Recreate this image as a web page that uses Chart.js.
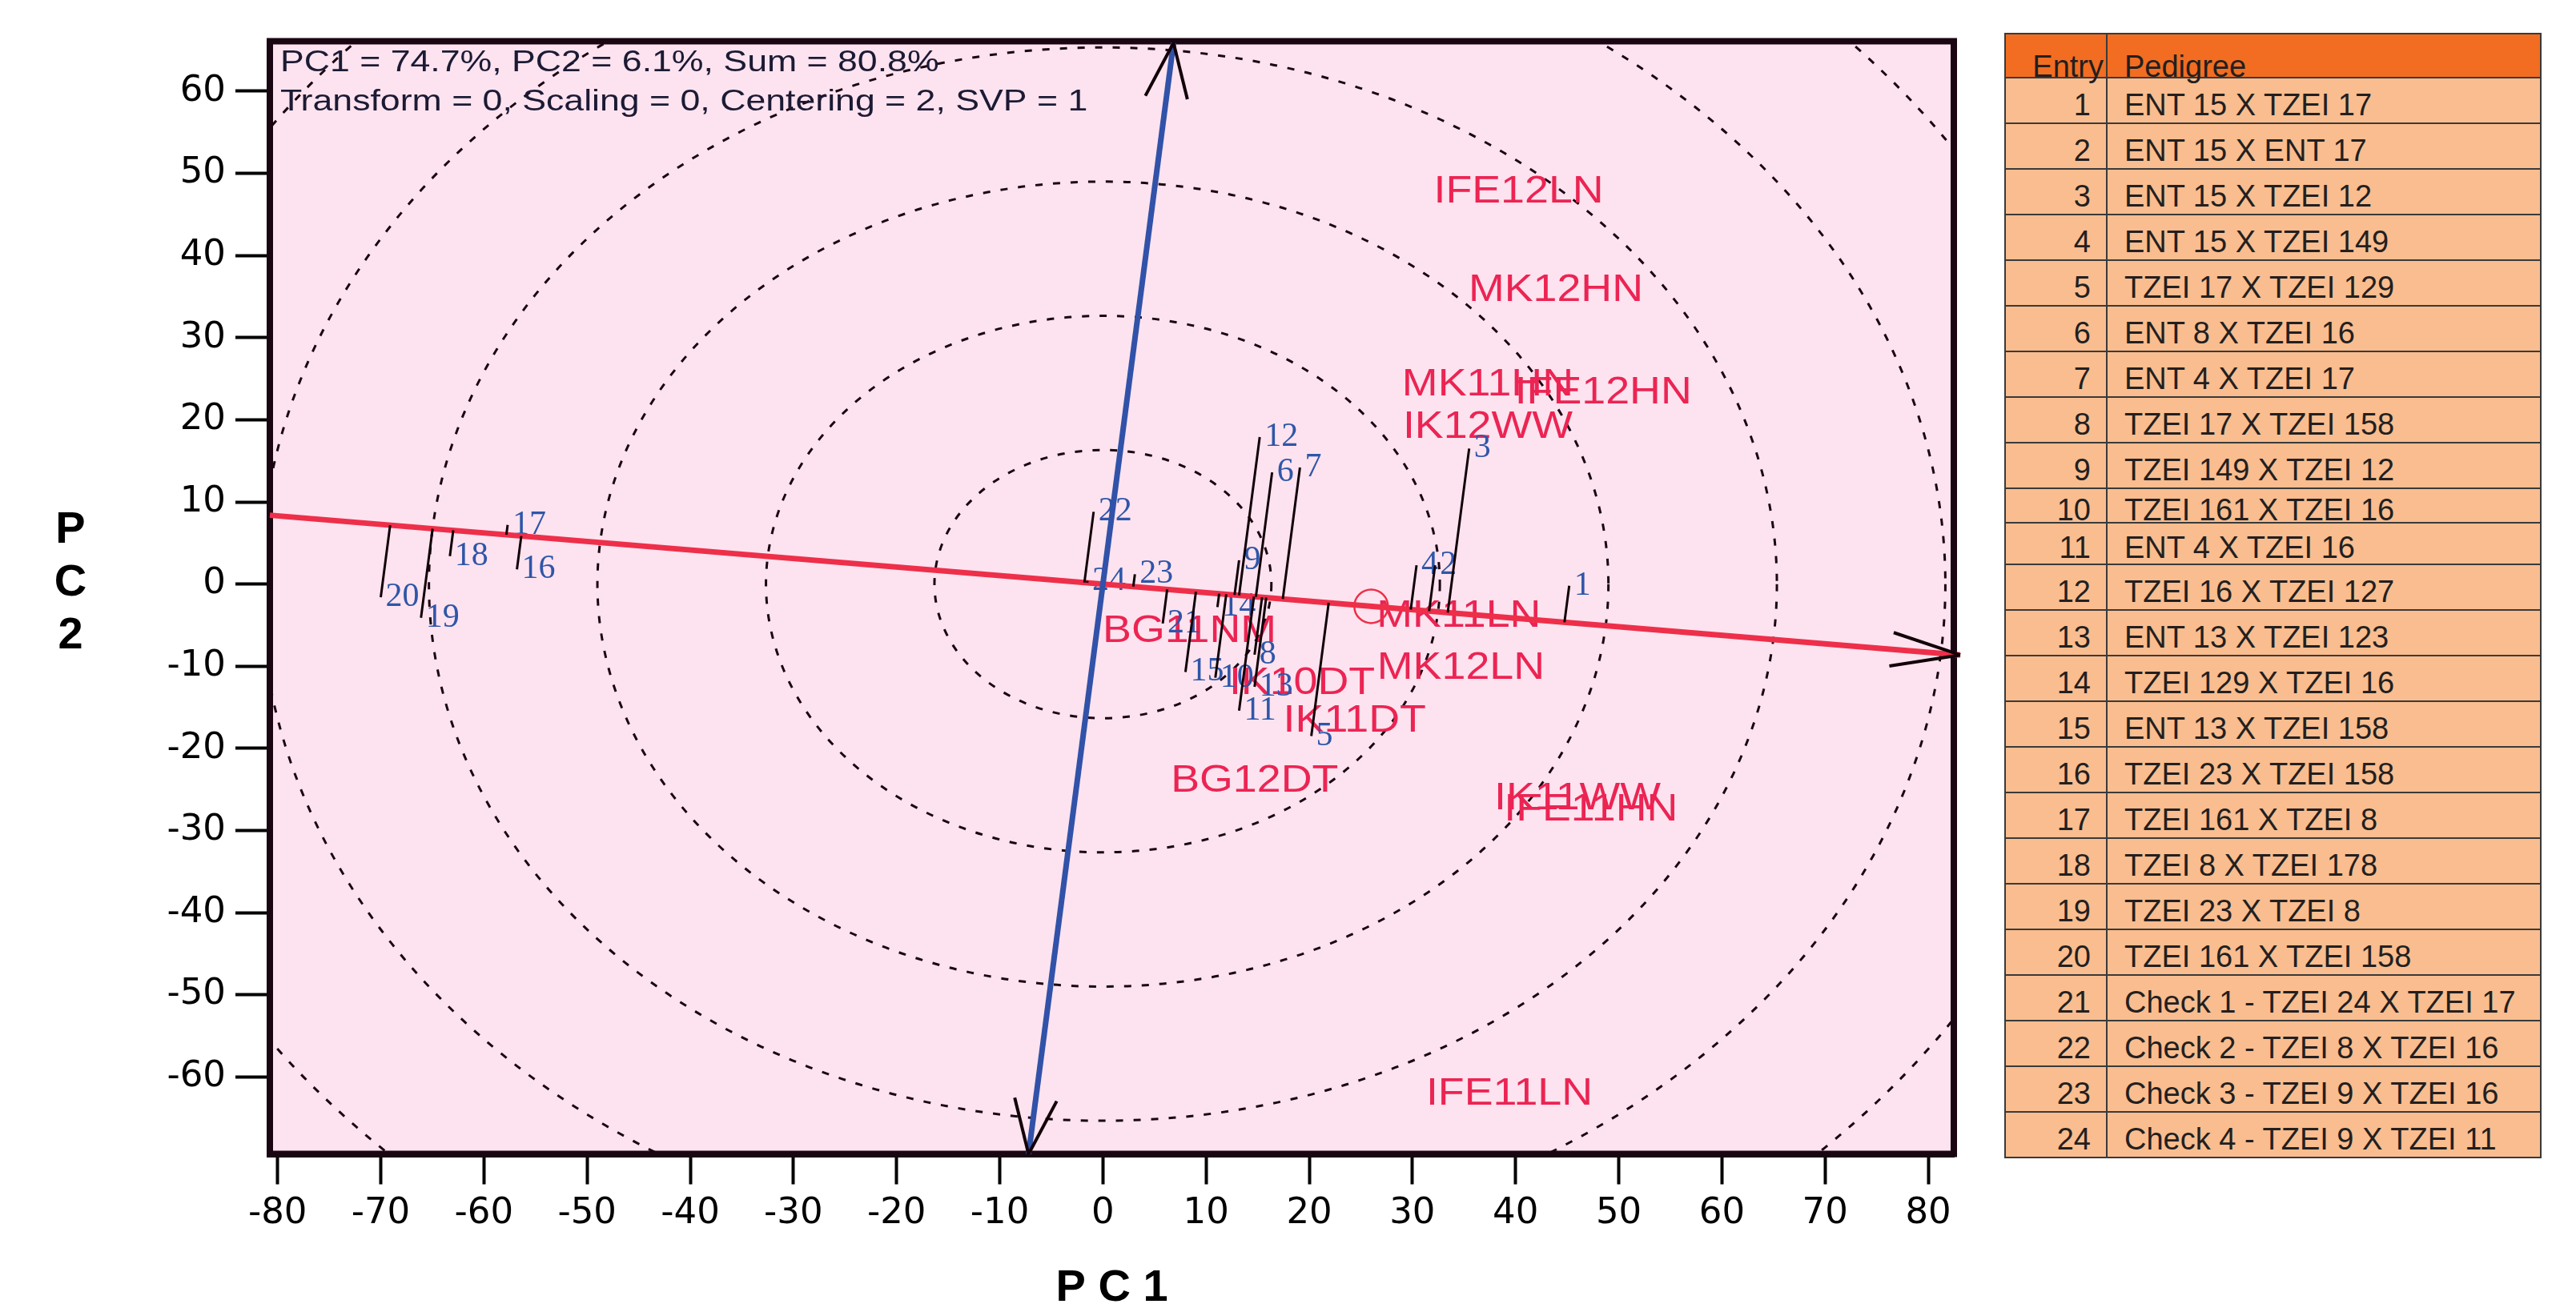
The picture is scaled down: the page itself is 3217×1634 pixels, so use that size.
<!DOCTYPE html>
<html>
<head>
<meta charset="utf-8">
<title>GGE biplot – PC1 vs PC2</title>
<script src="https://cdn.jsdelivr.net/npm/chart.js"></script>
<style>
  html, body { margin: 0; padding: 0; background: #ffffff; }
  #wrap { position: relative; width: 3217px; height: 1634px; overflow: hidden; }
  #chart { position: absolute; left: 0; top: 0; }
  #entryTable { position: absolute; left: 2503px; top: 41px; width: 671px; box-sizing: border-box;
    border: 2px solid #3a3a3a; font-family: 'Liberation Sans', Arial, sans-serif; font-size: 38px; color: #231f20; }
  .tr { display: flex; box-sizing: border-box; border-bottom: 2px solid #3a3a3a; background: #f9bd8f; }
  .tr:last-child { border-bottom: none; }
  .tr.head { background: #f26d21; }
  .c1, .c2 { display: flex; align-items: center; line-height: 1; white-space: nowrap; box-sizing: border-box; }
  .c1 { width: 127px; flex: none; justify-content: flex-end; padding-right: 19px; border-right: 2px solid #3a3a3a; }
  .c2 { flex: 1; padding-left: 21px; }
  .c1 span, .c2 span { position: relative; top: 5px; }
  .head .c1, .head .c2 { align-items: flex-end; }
  .head .c1 { padding-right: 3px; }
  .head .c1 span, .head .c2 span { top: 6px; }
</style>
</head>
<body>
<div id="wrap">
  <canvas id="chart" width="3217" height="1634"></canvas>
  <div id="entryTable"></div>
</div>
<script>
// ---------------- data ----------------
const xTickValues = [-80, -70, -60, -50, -40, -30, -20, -10, 0, 10, 20, 30, 40, 50, 60, 70, 80];
const xTickLabels = ['-80', '-70', '-60', '-50', '-40', '-30', '-20', '-10', '0', '10', '20', '30', '40', '50', '60', '70', '80'];
const yTickValues = [60, 50, 40, 30, 20, 10, 0, -10, -20, -30, -40, -50, -60];
const yTickLabels = ['60', '50', '40', '30', '20', '10', '0', '-10', '-20', '-30', '-40', '-50', '-60'];

const infoLines = ['PC1 = 74.7%, PC2 = 6.1%, Sum = 80.8%', 'Transform = 0, Scaling = 0, Centering = 2, SVP = 1'];

// genotypes (entries)
const entryIds = [1, 2, 3, 4, 5, 6, 7, 8, 9, 10, 11, 12, 13, 14, 15, 16, 17, 18, 19, 20, 21, 22, 23, 24];
const genotypePC1 = [45.2, 32.2, 35.5, 30.4, 20.2, 16.4, 19.1, 14.7, 13.2, 10.9, 13.2, 15.2, 14.7, 11.1, 8.0, -56.8, -57.7, -63.3, -66.1, -70.0, 5.8, -0.9, 3.1, -1.5];
const genotypePC2 = [-0.2, 2.3, 16.5, 2.3, -18.5, 13.6, 14.2, -8.6, 2.9, -11.4, -15.4, 17.9, -12.5, -2.8, -10.7, 1.8, 7.2, 3.4, -4.1, -1.6, -4.8, 8.8, 1.2, 0.4];
const pedigrees = [
  'ENT 15 X TZEI 17', 'ENT 15 X ENT 17', 'ENT 15 X TZEI 12', 'ENT 15 X TZEI 149',
  'TZEI 17 X TZEI 129', 'ENT 8 X TZEI 16', 'ENT 4 X TZEI 17', 'TZEI 17 X TZEI 158',
  'TZEI 149 X TZEI 12', 'TZEI 161 X TZEI 16', 'ENT 4 X TZEI 16', 'TZEI 16 X TZEI 127',
  'ENT 13 X TZEI 123', 'TZEI 129 X TZEI 16', 'ENT 13 X TZEI 158', 'TZEI 23 X TZEI 158',
  'TZEI 161 X TZEI 8', 'TZEI 8 X TZEI 178', 'TZEI 23 X TZEI 8', 'TZEI 161 X TZEI 158',
  'Check 1 - TZEI 24 X TZEI 17', 'Check 2 - TZEI 8 X TZEI 16', 'Check 3 - TZEI 9 X TZEI 16', 'Check 4 - TZEI 9 X TZEI 11'
];

// environments
const envNames = ['IFE12LN', 'MK12HN', 'MK11HN', 'IFE12HN', 'IK12WW', 'MK11LN', 'MK12LN', 'IK10DT', 'BG11NM', 'IK11DT', 'BG12DT', 'IK11WW', 'IFE11HN', 'IFE11LN'];
const envPC1 = [40.3, 43.9, 37.3, 48.5, 37.3, 34.5, 34.7, 19.3, 8.4, 24.4, 14.7, 46.0, 47.3, 39.4];
const envPC2 = [47.7, 35.8, 24.3, 23.3, 19.1, -3.95, -10.2, -12.1, -5.8, -16.7, -24.0, -26.1, -27.5, -62.1];

// average environment (defines the AEC abscissa through the origin)
const avgEnv = [26.0, -2.7];
const abscissaEndsPC1 = [-80.75, 83.1];   // PC1 extent of the AEC abscissa
const ordinateEndsPC2 = [-69.4, 65.9];    // PC2 extent of the AEC ordinate
const circleRadii = [16.33, 32.66, 49.0, 65.33, 81.66, 98.0];

// ---------------- table ----------------
(function buildTable() {
  const host = document.getElementById('entryTable');
  const mk = (cls, a, b, h) => {
    const row = document.createElement('div');
    row.className = 'tr' + (cls ? ' ' + cls : '');
    row.style.height = h + 'px';
    row.innerHTML = '<div class="c1"><span>' + a + '</span></div><div class="c2"><span>' + b + '</span></div>';
    host.appendChild(row);
  };
  mk('head', 'Entry', 'Pedigree', 55);
  entryIds.forEach((id, i) => {
    let h = 57;
    if (i === 9) h = 43;
    if (i === 10) h = 52;
    if (i === entryIds.length - 1) h = 55;
    mk('', id, pedigrees[i], h);
  });
})();

// ---------------- derived geometry (from data) ----------------
const aLen = Math.hypot(avgEnv[0], avgEnv[1]);
const uDir = [avgEnv[0] / aLen, avgEnv[1] / aLen];     // abscissa direction
const vDir = [-uDir[1], uDir[0]];                      // ordinate direction (perpendicular)

const redLine = abscissaEndsPC1.map(x => ({ x: x, y: x * uDir[1] / uDir[0] }));
const blueLine = ordinateEndsPC2.map(y => ({ x: y * vDir[0] / vDir[1], y: y }));

const projData = [];
genotypePC1.forEach((gx, i) => {
  const gy = genotypePC2[i];
  const t = gx * uDir[0] + gy * uDir[1];
  projData.push({ x: gx, y: gy });
  projData.push({ x: t * uDir[0], y: t * uDir[1] });
  projData.push({ x: NaN, y: NaN });
});

const genoPoints = genotypePC1.map((x, i) => ({ x: x, y: genotypePC2[i] }));
const envPoints = envPC1.map((x, i) => ({ x: x, y: envPC2[i] }));

// ---------------- drawing helpers ----------------
function stretchText(ctx, text, x, y, sx, align) {
  ctx.save();
  ctx.translate(x, y);
  ctx.scale(sx, 1);
  ctx.textAlign = align;
  ctx.fillText(text, 0, 0);
  ctx.restore();
}

function arrowHead(ctx, sx, sy, tip, back) {
  const L = 7, ang = 17 * Math.PI / 180;
  [1, -1].forEach(s => {
    const c = Math.cos(s * ang), si = Math.sin(s * ang);
    const dx = (back[0] * c - back[1] * si) * L;
    const dy = (back[0] * si + back[1] * c) * L;
    ctx.beginPath();
    ctx.moveTo(sx.getPixelForValue(tip[0]), sy.getPixelForValue(tip[1]));
    ctx.lineTo(sx.getPixelForValue(tip[0] + dx), sy.getPixelForValue(tip[1] + dy));
    ctx.stroke();
  });
}

const FRAME = '#1a0612';

const biplotDecor = {
  id: 'biplotDecor',
  beforeDraw(chart) {
    const { ctx, chartArea: a } = chart;
    ctx.save();
    ctx.fillStyle = '#fce3ef';
    ctx.fillRect(a.left, a.top, a.right - a.left, a.bottom - a.top);
    ctx.restore();
  },
  beforeDatasetsDraw(chart) {
    const { ctx, chartArea: a, scales } = chart;
    const sx = scales.x, sy = scales.y;
    ctx.save();
    ctx.beginPath();
    ctx.rect(a.left, a.top, a.right - a.left, a.bottom - a.top);
    ctx.clip();
    // concentric circles
    const cx = sx.getPixelForValue(0), cy = sy.getPixelForValue(0);
    ctx.setLineDash([9, 13]);
    ctx.lineWidth = 3;
    ctx.strokeStyle = FRAME;
    circleRadii.forEach(r => {
      const rx = sx.getPixelForValue(r) - cx;
      const ry = cy - sy.getPixelForValue(r);
      ctx.beginPath();
      ctx.ellipse(cx, cy, rx, ry, 0, 0, Math.PI * 2);
      ctx.stroke();
    });
    ctx.setLineDash([]);
    // info text
    ctx.fillStyle = '#1c1a34';
    ctx.font = "36px 'Liberation Sans', Arial, sans-serif";
    ctx.textBaseline = 'alphabetic';
    stretchText(ctx, infoLines[0], a.left + 13, a.top + 37.5, 1.24, 'left');
    stretchText(ctx, infoLines[1], a.left + 13, a.top + 86.5, 1.24, 'left');
    // environment labels
    ctx.textBaseline = 'middle';
    ctx.font = "48px 'Liberation Sans', Arial, sans-serif";
    ctx.fillStyle = '#ec2453';
    chart.getDatasetMeta(5).data.forEach((pt, i) => stretchText(ctx, envNames[i], pt.x, pt.y, 1.12, 'center'));
    // genotype labels
    ctx.font = "42px 'Liberation Serif', 'Times New Roman', serif";
    ctx.fillStyle = '#2f56a8';
    chart.getDatasetMeta(4).data.forEach((pt, i) => stretchText(ctx, String(entryIds[i]), pt.x + 6, pt.y, 1, 'left'));
    ctx.restore();
    // frame
    ctx.save();
    ctx.lineWidth = 8;
    ctx.strokeStyle = FRAME;
    ctx.strokeRect(a.left, a.top, a.right - a.left, a.bottom - a.top);
    ctx.restore();
  },
  afterDatasetsDraw(chart) {
    const { ctx, scales } = chart;
    ctx.save();
    ctx.strokeStyle = '#120008';
    ctx.lineWidth = 4;
    const rEnd = redLine[1];
    arrowHead(ctx, scales.x, scales.y, [rEnd.x, rEnd.y], [-uDir[0], -uDir[1]]);
    const bTop = blueLine[1], bBot = blueLine[0];
    arrowHead(ctx, scales.x, scales.y, [bTop.x, bTop.y], [-vDir[0], -vDir[1]]);
    arrowHead(ctx, scales.x, scales.y, [bBot.x, bBot.y], [vDir[0], vDir[1]]);
    ctx.restore();
  },
  afterDraw(chart) {
    const { ctx, chartArea: a } = chart;
    ctx.save();
    ctx.fillStyle = '#000';
    ctx.font = "bold 56px 'Liberation Sans', Arial, sans-serif";
    ctx.textAlign = 'center';
    ctx.textBaseline = 'middle';
    const x = a.left - 249, yMid = a.top + 677;
    ['P', 'C', '2'].forEach((ch, i) => ctx.fillText(ch, x, yMid + (i - 1) * 65.6));
    ctx.restore();
  }
};

// ---------------- chart ----------------
new Chart(document.getElementById('chart'), {
  type: 'scatter',
  data: {
    datasets: [
      { label: 'AEC abscissa', data: redLine, showLine: true, borderColor: '#ee2f4a', borderWidth: 7,
        pointRadius: 0, clip: false, order: 5 },
      { label: 'AEC ordinate', data: blueLine, showLine: true, borderColor: '#3152a8', borderWidth: 7,
        pointRadius: 0, clip: false, order: 4 },
      { label: 'Projections', data: projData, showLine: true, spanGaps: false, borderColor: '#120008',
        borderWidth: 3, pointRadius: 0, order: 3 },
      { label: 'Average environment', data: [{ x: avgEnv[0], y: avgEnv[1] }], pointRadius: 21, pointStyle: 'circle',
        borderColor: '#ee2f4a', borderWidth: 2.5, backgroundColor: 'rgba(0,0,0,0)', order: 2 },
      { label: 'Genotypes', data: genoPoints, pointRadius: 0, order: 1 },
      { label: 'Environments', data: envPoints, pointRadius: 0, order: 1 }
    ]
  },
  options: {
    responsive: false,
    devicePixelRatio: 1,
    animation: false,
    events: [],
    layout: { padding: { top: 51.5, right: 777, bottom: 0, left: 0 } },
    plugins: { legend: { display: false }, tooltip: { enabled: false } },
    scales: {
      x: {
        type: 'linear', position: 'bottom', min: -80.75, max: 82.48,
        afterBuildTicks: s => { s.ticks = xTickValues.map(v => ({ value: v })); },
        afterFit: s => { s.height = 192.5; },
        ticks: { autoSkip: false, maxRotation: 0, minRotation: 0, padding: 10, color: '#000',
          font: { family: "'DejaVu Sans', sans-serif", size: 45 },
          callback: (v, i) => xTickLabels[i] },
        grid: { drawOnChartArea: false, drawTicks: true, tickLength: 38, tickWidth: 4, tickColor: '#000' },
        border: { display: true, width: 8, color: FRAME },
        title: { display: true, text: 'P C 1', color: '#000', padding: { top: 0, bottom: 0 },
          font: { family: "'Liberation Sans', Arial, sans-serif", size: 56, weight: 'bold', lineHeight: 0.86 } }
      },
      y: {
        type: 'linear', position: 'left', min: -69.37, max: 66.09,
        afterBuildTicks: s => { s.ticks = yTickValues.map(v => ({ value: v })); },
        afterFit: s => { s.width = 337; },
        ticks: { autoSkip: false, padding: 12, color: '#000',
          font: { family: "'DejaVu Sans', sans-serif", size: 45 },
          callback: (v, i) => yTickLabels[i] },
        grid: { drawOnChartArea: false, drawTicks: true, tickLength: 43, tickWidth: 4, tickColor: '#000' },
        border: { display: true, width: 8, color: FRAME }
      }
    }
  },
  plugins: [biplotDecor]
});
</script>
</body>
</html>
